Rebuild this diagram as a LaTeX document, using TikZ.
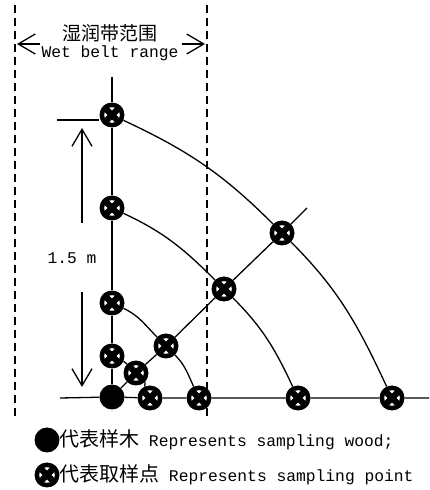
\documentclass[tikz,border=0pt]{standalone}
\usepackage{fontspec}
\setmonofont{Liberation Mono}
\newfontfamily\cjk{Noto Sans CJK SC}
\usetikzlibrary{arrows.meta}

\tikzset{
  tree/.style={circle, fill=black, inner sep=0pt, minimum size=25pt},
  spoint/.style={circle, fill=black, inner sep=0pt, minimum size=25pt,
    path picture={
      \fill[white] (path picture bounding box.center) circle (7.8pt);
      \draw[line width=6.3pt] ([shift={(-9pt,-9pt)}]path picture bounding box.center) -- ([shift={(9pt,9pt)}]path picture bounding box.center);
      \draw[line width=6.3pt] ([shift={(-9pt,9pt)}]path picture bounding box.center) -- ([shift={(9pt,-9pt)}]path picture bounding box.center);
    }},
  zone/.style={dash pattern=on 8pt off 5pt, line width=1.6pt},
  ring/.style={line width=1.3pt},
  dim/.style={line width=1.3pt, -{Straight Barb[length=17pt,width=20pt]}},
  lbl/.style={font=\ttfamily\fontsize{16.3}{18}\selectfont, inner sep=0pt},
}

\begin{document}
\begin{tikzpicture}[x=1pt, y=1pt]
            \useasboundingbox (0,0) rectangle (429,490);

            % wet belt limits
            \coordinate (zl1) at (15,485);
            \coordinate (zl2) at (15,72);
            \coordinate (zr1) at (207,485);
            \coordinate (zr2) at (207,73);
            \draw[zone] (zl1) -- (zl2);
            \draw[zone] (zr1) -- (zr2);

            % header
            \node[inner sep=0pt, font=\cjk\fontsize{19}{21}\selectfont] (hzh) at (110,457) {湿润带范围};
            \node[lbl] (hen) at (110,437) {Wet belt range};
            \coordinate (la0) at (40,446);
            \coordinate (la) at (17,446);
            \coordinate (ra0) at (182,446);
            \coordinate (ra) at (205,446);
            \draw[dim] (la0) -- (la);
            \draw[dim] (ra0) -- (ra);

            % sample tree and sampling points
            \node[tree] (tree) at (112,93) {};
            \node[spoint] (v1) at (112,134) {};
            \node[spoint] (v2) at (112,187) {};
            \node[spoint] (v3) at (112,282) {};
            \node[spoint] (v4) at (112,375) {};
            \node[spoint] (d1) at (136,117) {};
            \node[spoint] (d2) at (166,144) {};
            \node[spoint] (d3) at (224,201) {};
            \node[spoint] (d4) at (282,257) {};
            \node[spoint] (h1) at (150,92) {};
            \node[spoint] (h2) at (199,92) {};
            \node[spoint] (h3) at (298,92) {};
            \node[spoint] (h4) at (392,92) {};

            % axes
            \coordinate (top) at (112,413);
            \coordinate (bl) at (60,92);
            \coordinate (br) at (429,92);
            \coordinate (de) at (307,282);
            \draw[ring] (top) -- (v4) -- (v3) -- (v2) -- (v1) -- (tree);
            \draw[ring] (bl) -- (tree) -- (h1) -- (h2) -- (h3) -- (h4) -- (br);
            \draw[ring] (tree) -- (d1) -- (d2) -- (d3) -- (d4) -- (de);

            % rings
            \draw[ring] (v1) to[out=-25,in=135] (d1) to[out=-45,in=115] (h1);
            \draw[ring] (v2) to[out=-25,in=135] (d2) to[out=-45,in=115] (h2);
            \draw[ring] (v3) to[out=-25,in=135] (d3) to[out=-45,in=115] (h3);
            \draw[ring] (v4) to[out=-25,in=135] (d4) to[out=-45,in=115] (h4);

            % 1.5 m
            \coordinate (tk) at (57,370);
            \draw[ring] (tk) -- (tk -| v4.west);
            \node[lbl] (len) at (72,232) {1.5 m};
            \coordinate (ua) at (82,267);
            \coordinate (ub) at (82,362);
            \coordinate (da) at (82,198);
            \coordinate (db) at (82,103);
            \draw[dim] (ua) -- (ub);
            \draw[dim] (da) -- (db);

            % legend
            \node[tree] (lgtree) at (47,50) {};
            \node[spoint] (lgpt) at (47,15) {};
            \node[lbl, anchor=west] (lg1) at (59,50) {{\cjk\fontsize{20}{22}\selectfont 代表样木} Represents sampling wood;};
            \node[lbl, anchor=west] (lg2) at (59,15) {{\cjk\fontsize{20}{22}\selectfont 代表取样点} Represents sampling point};
        \end{tikzpicture}
\end{document}
